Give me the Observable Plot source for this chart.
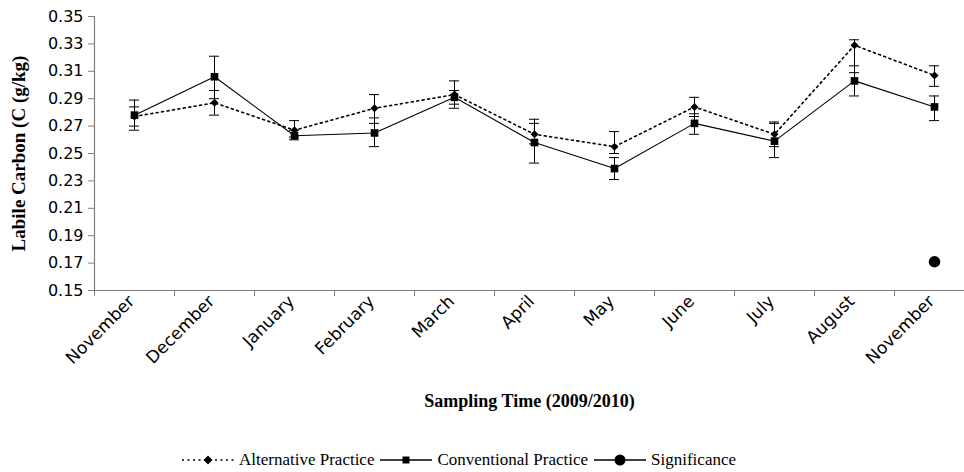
<!DOCTYPE html>
<html>
<head>
<meta charset="utf-8">
<script src="https://cdn.jsdelivr.net/npm/d3@7"></script>
<script src="https://cdn.jsdelivr.net/npm/@observablehq/plot@0.6"></script>
<style>
  html, body { margin: 0; padding: 0; background: #fff; }
  #wrap { width: 964px; height: 472px; position: relative; overflow: hidden; }
  #legend { position: absolute; left: 181px; top: 450px; display: flex; align-items: center; white-space: nowrap; }
  #legend .item { display: flex; align-items: center; margin-right: 5px; }
  #legend .item span { font-family: 'Liberation Serif', 'Times New Roman', serif; font-size: 17px; color: #000; }
  #legend svg { margin-right: 4px; }
</style>
</head>
<body>
<div id="wrap">
  <div id="chart"></div>
  <div id="legend"></div>
</div>
<script>
// ---- data ----
const months = ["November","December","January","February","March","April","May","June","July","August","November"];
const altValues  = [0.277, 0.287, 0.267, 0.283, 0.293, 0.264, 0.255, 0.284, 0.264, 0.329, 0.307];
const altLow     = [0.270, 0.278, 0.262, 0.272, 0.283, 0.257, 0.250, 0.277, 0.255, 0.309, 0.299];
const altHigh    = [0.284, 0.296, 0.274, 0.293, 0.303, 0.272, 0.266, 0.291, 0.273, 0.333, 0.314];
const convValues = [0.278, 0.306, 0.263, 0.265, 0.291, 0.258, 0.239, 0.272, 0.259, 0.303, 0.284];
const convLow    = [0.267, 0.290, 0.260, 0.255, 0.286, 0.243, 0.231, 0.264, 0.247, 0.292, 0.274];
const convHigh   = [0.289, 0.321, 0.267, 0.276, 0.296, 0.275, 0.247, 0.279, 0.272, 0.314, 0.292];
const significance = [null, null, null, null, null, null, null, null, null, null, 0.171];
const yTicks = [0.15, 0.17, 0.19, 0.21, 0.23, 0.25, 0.27, 0.29, 0.31, 0.33, 0.35];
const yTitle = "Labile Carbon (C (g/kg)";
const xTitle = "Sampling Time (2009/2010)";
const legendLabels = ["Alternative Practice", "Conventional Practice", "Significance"];

// ---- tables built from the arrays ----
const alt = months.map((m, i) => ({pos: i + 0.5, v: altValues[i], lo: altLow[i], hi: altHigh[i]}));
const conv = months.map((m, i) => ({pos: i + 0.5, v: convValues[i], lo: convLow[i], hi: convHigh[i]}));
const sig = significance.map((v, i) => ({pos: i + 0.5, v})).filter(d => d.v != null);
const boundaries = d3.range(months.length + 1);
const centers = months.map((m, i) => i + 0.5);

const serif = "Liberation Serif, Times New Roman, serif";
const sans = "DejaVu Sans, Liberation Sans, Arial, sans-serif";
const axisGray = "#808080";

const errorBars = (rows) => [
  Plot.ruleX(rows, {x: "pos", y1: "lo", y2: "hi", stroke: "#000", strokeWidth: 1}),
  Plot.ruleY(rows, {y: "lo", x1: "pos", x2: "pos", insetLeft: -5, insetRight: -5, stroke: "#000", strokeWidth: 1}),
  Plot.ruleY(rows, {y: "hi", x1: "pos", x2: "pos", insetLeft: -5, insetRight: -5, stroke: "#000", strokeWidth: 1})
];

const chart = Plot.plot({
  width: 964,
  height: 446,
  marginLeft: 94,
  marginRight: 0,
  marginTop: 16,
  marginBottom: 156,
  style: {fontFamily: sans, fontSize: "16px", background: "#fff", color: "#000", overflow: "hidden"},
  x: {domain: [0, months.length], range: [94, 974], axis: null},
  y: {domain: [0.15, 0.35], range: [290, 16], axis: null},
  marks: [
    // axes lines
    Plot.ruleX([0], {y1: 0.15, y2: 0.35, stroke: axisGray, strokeWidth: 1.2}),
    Plot.ruleY([0.15], {x1: 0, x2: months.length, stroke: axisGray, strokeWidth: 1.2}),
    Plot.axisY({ticks: yTicks, tickFormat: d => d.toFixed(2), tickSize: 6, tickPadding: 5,
                stroke: axisGray, fill: "#000", label: null, fontSize: 16}),
    Plot.axisX({ticks: boundaries, tickSize: 6, tickFormat: () => "", stroke: axisGray, label: null}),
    Plot.axisX({ticks: centers, tickSize: 0, tickRotate: -45, tickPadding: 8,
                tickFormat: d => months[Math.floor(d)], label: null, fontSize: 17, fill: "#000", dx: -3}),
    // error bars
    ...errorBars(alt),
    ...errorBars(conv),
    // lines
    Plot.line(alt, {x: "pos", y: "v", stroke: "#000", strokeWidth: 1.6, strokeDasharray: "2,3.5"}),
    Plot.line(conv, {x: "pos", y: "v", stroke: "#000", strokeWidth: 1.1}),
    // markers
    Plot.dot(alt, {x: "pos", y: "v", symbol: "diamond2", r: 3.6, fill: "#000", stroke: "none"}),
    Plot.dot(conv, {x: "pos", y: "v", symbol: "square", r: 4.3, fill: "#000", stroke: "none"}),
    Plot.dot(sig, {x: "pos", y: "v", symbol: "circle", r: 5.8, fill: "#000", stroke: "none"}),
    // titles
    Plot.text([yTitle], {frameAnchor: "left", textAnchor: "middle", dx: -76, rotate: -90, fontFamily: serif,
                         fontWeight: "bold", fontSize: 19, fill: "#000"}),
    Plot.text([xTitle], {frameAnchor: "bottom", textAnchor: "middle", dy: 116, fontFamily: serif,
                         fontWeight: "bold", fontSize: 18, fill: "#000"})
  ]
});
document.getElementById("chart").appendChild(chart);

// ---- legend (below the plot) ----
const legend = d3.select("#legend");
const symbols = [
  {label: legendLabels[0], dash: "2,3.5", sw: 1.6, shape: "diamond"},
  {label: legendLabels[1], dash: null, sw: 1.6, shape: "square"},
  {label: legendLabels[2], dash: null, sw: 1.6, shape: "circle"}
];
symbols.forEach(s => {
  const item = legend.append("div").attr("class", "item");
  const svg = item.append("svg").attr("width", 54).attr("height", 16);
  svg.append("line").attr("x1", 1).attr("x2", 53).attr("y1", 8).attr("y2", 8)
     .attr("stroke", "#000").attr("stroke-width", s.sw).attr("stroke-dasharray", s.dash);
  if (s.shape === "diamond") svg.append("path").attr("d", "M27,3.5L31.5,8L27,12.5L22.5,8Z").attr("fill", "#000");
  if (s.shape === "square") svg.append("rect").attr("x", 23.5).attr("y", 4.5).attr("width", 7).attr("height", 7).attr("fill", "#000");
  if (s.shape === "circle") svg.append("circle").attr("cx", 27).attr("cy", 8).attr("r", 5.5).attr("fill", "#000");
  item.append("span").style("font-family", "'Liberation Serif', 'Times New Roman', serif").text(s.label);
});
</script>
</body>
</html>
